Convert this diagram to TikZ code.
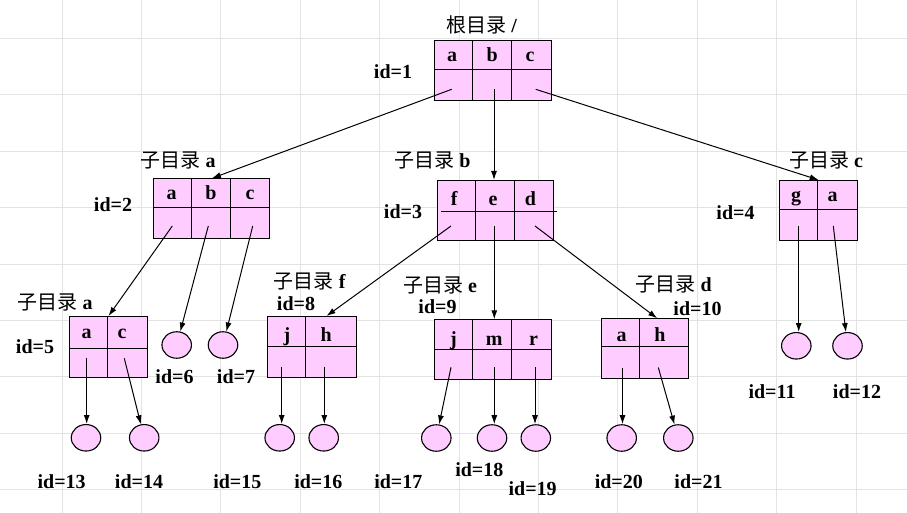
\documentclass[tikz,border=0pt]{standalone}
\usepackage{fontspec}
\setmainfont{Liberation Serif}
\newfontfamily\cjk{Noto Sans CJK SC}
\usetikzlibrary{arrows.meta,shapes.geometric,calc}
\definecolor{boxpink}{HTML}{FFCCFF}
\definecolor{gridgray}{HTML}{E3E3E3}
\tikzset{
  gridline/.style={draw=gridgray, line width=1pt},
  dirbox/.style={draw, fill=boxpink, line width=1.1pt, rectangle, inner sep=0pt, anchor=north west},
  boxline/.style={line width=1.1pt},
  leaf/.style={draw, fill=boxpink, ellipse, line width=1.1pt, minimum width=29.5pt, minimum height=26.5pt, inner sep=0pt},
  cell/.style={font=\bfseries\fontsize{20}{20}\selectfont, anchor=base, inner sep=0pt},
  idlab/.style={font=\bfseries\fontsize{20}{20}\selectfont, inner sep=0pt},
  dirlab/.style={font=\bfseries\fontsize{20}{20}\selectfont, inner sep=0pt},
  ptr/.style={-{Latex[length=9pt,width=6pt]}, line width=1pt},
}
\newcommand{\zml}{{\cjk\mdseries 子目录}}
\begin{document}
\begin{tikzpicture}[x=1pt,y=-1pt]
\useasboundingbox (0,0) rectangle (907,513);
\fill[white] (0,0) rectangle (907,513);
% grid
\foreach \k in {0,...,10} \draw[gridline] (62+79.4*\k,0) -- (62+79.4*\k,513);
\foreach \k in {0,...,8} \draw[gridline] (0,38.5+56.4*\k) -- (907,38.5+56.4*\k);

% ---------- root box ----------
\node[dirbox, minimum width=116.7pt, minimum height=60pt] (r1) at (434,40) {};
\draw[boxline] (472.3,40) -- (472.3,100) (511.7,40) -- (511.7,100) (434,69.3) -- (550.7,69.3);
\node[cell] (r1ta) at (452,61.7) {a};
\node[cell] (r1tb) at (492.3,61.7) {b};
\node[cell] (r1tc) at (530,61.7) {c};
\node[dirlab] (r1lab) at (481.7,25) {{\cjk\mdseries 根目录} /};
\node[idlab] (id1) at (393,71.7) {id=1};
\coordinate (r1a) at (451.7,89.3);
\coordinate (r1b) at (494,89.3);
\coordinate (r1c) at (535.7,89.3);

% ---------- box 2 ----------
\node[dirbox, minimum width=116pt, minimum height=60pt] (b2) at (153.3,178.3) {};
\draw[boxline] (191.3,178.3) -- (191.3,238.3) (230.3,178.3) -- (230.3,238.3) (153.3,207.7) -- (269.3,207.7);
\node[cell] (b2ta) at (171.5,199.3) {a};
\node[cell] (b2tb) at (211,199.3) {b};
\node[cell] (b2tc) at (250,199.3) {c};
\node[dirlab] (b2lab) at (178,160.7) {\zml{} a};
\node[idlab] (id2) at (113,205) {id=2};
\coordinate (b2a) at (172.3,226);
\coordinate (b2b) at (208.3,226);
\coordinate (b2c) at (252.7,226);

% ---------- box 3 ----------
\node[dirbox, minimum width=116pt, minimum height=60pt] (b3) at (437.3,180) {};
\draw[boxline] (475.7,180) -- (475.7,240) (514.3,180) -- (514.3,240) (441,211.7) -- (556.7,211.7);
\node[cell] (b3tf) at (454.3,205.7) {f};
\node[cell] (b3te) at (493,205.7) {e};
\node[cell] (b3td) at (530.5,205.7) {d};
\node[dirlab] (b3lab) at (432.5,160) {\zml{} b};
\node[idlab] (id3) at (403,211.7) {id=3};
\coordinate (b3f) at (451,226);
\coordinate (b3e) at (494.3,226);
\coordinate (b3d) at (535,226);

% ---------- box 4 ----------
\node[dirbox, minimum width=78.3pt, minimum height=60pt] (b4) at (779,180) {};
\draw[boxline] (817.3,180) -- (817.3,240) (779,209.3) -- (857.3,209.3);
\node[cell] (b4tg) at (796,201.7) {g};
\node[cell] (b4ta) at (832.5,201.7) {a};
\node[dirlab] (b4lab) at (826,160) {\zml{} c};
\node[idlab] (id4) at (735.5,212.7) {id=4};
\coordinate (b4g) at (798.7,226);
\coordinate (b4a) at (833.3,226);

% ---------- box 5 ----------
\node[dirbox, minimum width=77.4pt, minimum height=60.7pt] (b5) at (69.3,316) {};
\draw[boxline] (107.3,316) -- (107.3,376.7) (69.3,348.3) -- (148.3,348.3);
\node[cell] (b5ta) at (86.5,338.3) {a};
\node[cell] (b5tc) at (122,338.3) {c};
\node[dirlab] (b5lab) at (55,302.7) {\zml{} a};
\node[idlab] (id5) at (35,346.7) {id=5};
\coordinate (b5a) at (86.7,358.3);
\coordinate (b5c) at (124.3,358.3);

% ---------- box 8 ----------
\node[dirbox, minimum width=88.4pt, minimum height=60.7pt] (b8) at (267.3,316) {};
\draw[boxline] (305.7,316) -- (305.7,376.7) (267.3,346.7) -- (355.7,346.7);
\node[cell] (b8tj) at (287,341.7) {j};
\node[cell] (b8th) at (326.3,341.7) {h};
\node[dirlab] (b8lab) at (309.7,281.7) {\zml{} f};
\node[idlab] (id8) at (296,304) {id=8};
\coordinate (b8j) at (281.7,366.7);
\coordinate (b8h) at (324.3,366.7);

% ---------- box 9 ----------
\node[dirbox, minimum width=116.4pt, minimum height=60pt] (b9) at (434.3,319.3) {};
\draw[boxline] (472.7,319.3) -- (472.7,379.3) (511.7,319.3) -- (511.7,379.3) (434.3,349.3) -- (550.7,349.3);
\node[cell] (b9tj) at (453.5,345) {j};
\node[cell] (b9tm) at (494.3,345) {m};
\node[cell] (b9tr) at (533.5,345) {r};
\node[dirlab] (b9lab) at (440,285.7) {\zml{} e};
\node[idlab] (id9) at (437.5,306.7) {id=9};
\coordinate (b9j) at (451,367.3);
\coordinate (b9m) at (494.3,367.3);
\coordinate (b9r) at (535,367.3);

% ---------- box 10 ----------
\node[dirbox, minimum width=87.3pt, minimum height=60pt] (b10) at (601,318.3) {};
\draw[boxline] (639.3,318.3) -- (639.3,378.3) (601,346.7) -- (688.3,346.7);
\node[cell] (b10ta) at (621.7,341) {a};
\node[cell] (b10th) at (660,341) {h};
\node[dirlab] (b10lab) at (673.7,284) {\zml{} d};
\node[idlab] (id10) at (697.5,308.3) {id=10};
\coordinate (b10a) at (622.5,367.5);
\coordinate (b10h) at (658.3,367.5);

% ---------- leaves ----------
\node[leaf] (l6) at (176.7,345) {};
\node[leaf] (l7) at (223,345) {};
\node[leaf] (l11) at (796.3,345.8) {};
\node[leaf] (l12) at (847.5,345.8) {};
\node[leaf] (l13) at (86,437.8) {};
\node[leaf] (l14) at (144.2,437.8) {};
\node[leaf] (l15) at (279.7,437.8) {};
\node[leaf] (l16) at (323.7,437.8) {};
\node[leaf] (l17) at (436.3,438) {};
\node[leaf] (l18) at (492,438) {};
\node[leaf] (l19) at (535.8,438) {};
\node[leaf] (l20) at (621.7,438) {};
\node[leaf] (l21) at (678.3,438) {};

\node[idlab] (id6) at (174.5,376.7) {id=6};
\node[idlab] (id7) at (236,376.7) {id=7};
\node[idlab] (id11) at (772,391.7) {id=11};
\node[idlab] (id12) at (857,391.7) {id=12};
\node[idlab] (id13) at (61.7,481.7) {id=13};
\node[idlab] (id14) at (139,481.7) {id=14};
\node[idlab] (id15) at (237.3,481.7) {id=15};
\node[idlab] (id16) at (318.3,481.7) {id=16};
\node[idlab] (id17) at (398.3,481.7) {id=17};
\node[idlab] (id18) at (479.3,469.3) {id=18};
\node[idlab] (id19) at (532.7,488.3) {id=19};
\node[idlab] (id20) at (618.8,481.7) {id=20};
\node[idlab] (id21) at (698.5,481.7) {id=21};

% ---------- pointers ----------
\draw[ptr] (r1a) -- (b2.north);
\draw[ptr] (r1b) -- (r1b |- b3.north);
\draw[ptr] (r1c) -- (b4.north);

\draw[ptr] (b2a) -- (b5.north);
\draw[ptr] (b2b) -- (l6);
\draw[ptr] (b2c) -- (l7);

\draw[ptr] (b3f) -- ($(b8.north)+(14.5,0)$);
\draw[ptr] (b3e) -- (b3e |- b9.north);
\draw[ptr] (b3d) -- ($(b10.north)+(12,0)$);

\draw[ptr] (b4g) -- (b4g |- l11.north);
\draw[ptr] (b4a) -- (l12);

\draw[ptr] (b5a) -- (b5a |- l13.north);
\draw[ptr] (b5c) -- (l14);

\draw[ptr] (b8j) -- (b8j |- l15.north);
\draw[ptr] (b8h) -- (b8h |- l16.north);

\draw[ptr] (b9j) -- (l17);
\draw[ptr] (b9m) -- (b9m |- l18.north);
\draw[ptr] (b9r) -- (b9r |- l19.north);

\draw[ptr] (b10a) -- (b10a |- l20.north);
\draw[ptr] (b10h) -- (l21);
\end{tikzpicture}
\end{document}
